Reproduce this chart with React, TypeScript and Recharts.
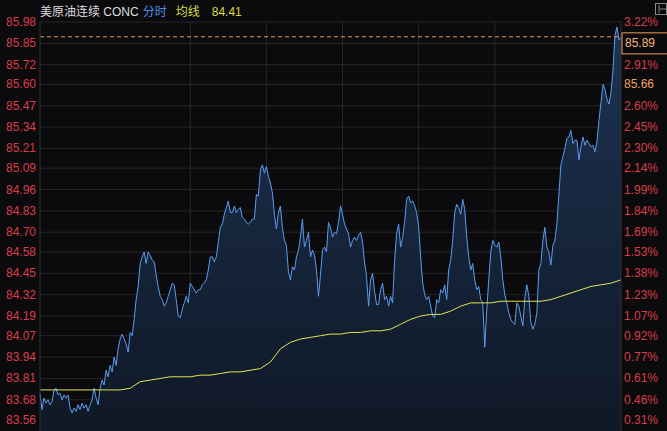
import { ComposedChart, Area, Line, XAxis, YAxis, CartesianGrid, ReferenceLine } from "recharts";

// 价格刻度（左）与右侧标签，从上到下
const priceTicks = [
  85.98, 85.85, 85.72, 85.6, 85.47, 85.34, 85.21, 85.09, 84.96, 84.83,
  84.7, 84.58, 84.45, 84.32, 84.19, 84.07, 83.94, 83.81, 83.68, 83.56,
];
const rightLabels = [
  "3.22%", "85.89", "2.91%", "85.66", "2.60%", "2.45%", "2.30%", "2.14%", "1.99%", "1.84%",
  "1.69%", "1.53%", "1.38%", "1.23%", "1.07%", "0.92%", "0.77%", "0.61%", "0.46%", "0.31%",
];

// 分时价格
const prices = [
  83.72, 83.62, 83.69, 83.66, 83.68, 83.65, 83.67, 83.74, 83.75, 83.71,
  83.72, 83.68, 83.71, 83.69, 83.71, 83.63, 83.6, 83.63, 83.61, 83.65,
  83.62, 83.66, 83.63, 83.65, 83.61, 83.65, 83.68, 83.75, 83.69, 83.65,
  83.75, 83.8, 83.77, 83.86, 83.82, 83.89, 83.85, 83.94, 83.89, 83.99,
  84.05, 84.08, 84.05, 84.02, 83.97, 84.09, 84.07, 84.17, 84.29, 84.37,
  84.51, 84.55, 84.58, 84.51, 84.58, 84.56, 84.53, 84.52, 84.44, 84.37,
  84.31, 84.29, 84.25, 84.27, 84.31, 84.35, 84.39, 84.38, 84.29, 84.19,
  84.18, 84.23, 84.27, 84.31, 84.27, 84.39, 84.37, 84.35, 84.33, 84.35,
  84.35, 84.38, 84.39, 84.41, 84.47, 84.55, 84.55, 84.52, 84.55, 84.64,
  84.73, 84.75, 84.81, 84.85, 84.89, 84.82, 84.82, 84.86, 84.82, 84.84,
  84.85, 84.79, 84.78, 84.76, 84.75, 84.76, 84.78, 84.78, 84.93, 84.92,
  85.08, 85.11, 85.06, 85.1, 85.04, 85.0, 84.94, 84.81, 84.72, 84.82,
  84.86, 84.73, 84.65, 84.62, 84.46, 84.41, 84.49, 84.47, 84.55, 84.59,
  84.67, 84.78, 84.61, 84.65, 84.7, 84.55, 84.59, 84.56, 84.47, 84.31,
  84.44, 84.59, 84.61, 84.58, 84.76, 84.73, 84.67, 84.7, 84.69, 84.76,
  84.86, 84.81, 84.75, 84.72, 84.69, 84.61, 84.65, 84.67, 84.65, 84.68,
  84.7, 84.64, 84.52, 84.43, 84.25, 84.41, 84.45, 84.34, 84.26, 84.26,
  84.35, 84.39, 84.29, 84.31, 84.25, 84.31, 84.27, 84.53, 84.69, 84.75,
  84.61, 84.67, 84.76, 84.9, 84.92, 84.88, 84.89, 84.86, 84.82, 84.73,
  84.55, 84.39, 84.32, 84.29, 84.31, 84.25, 84.19, 84.18, 84.29, 84.27,
  84.35, 84.33, 84.38, 84.29, 84.47, 84.53, 84.65, 84.82, 84.87, 84.85,
  84.81, 84.9, 84.84, 84.67, 84.55, 84.47, 84.51, 84.41, 84.35, 84.37,
  84.29, 84.27, 84.0, 84.23, 84.41, 84.58, 84.65, 84.62, 84.61, 84.64,
  84.55, 84.41, 84.32, 84.27, 84.21, 84.17, 84.15, 84.14, 84.27, 84.25,
  84.19, 84.13, 84.3, 84.38, 84.31, 84.15, 84.11, 84.14, 84.21, 84.47,
  84.51, 84.65, 84.73, 84.61, 84.58, 84.5, 84.62, 84.65, 84.75, 84.93,
  85.11, 85.16, 85.21, 85.27, 85.28, 85.32, 85.24, 85.26, 85.26, 85.14,
  85.22, 85.28, 85.23, 85.26, 85.24, 85.22, 85.23, 85.19, 85.25, 85.38,
  85.49, 85.6, 85.57, 85.51, 85.48, 85.55, 85.69, 85.9, 85.95, 85.87,
  85.89,
];

// 均线，每5个点取一个
const avgPrices = [
  83.74, 83.74, 83.74, 83.74, 83.74, 83.74, 83.74, 83.74, 83.74, 83.75,
  83.79, 83.8, 83.81, 83.82, 83.82, 83.82, 83.83, 83.83, 83.84, 83.85,
  83.85, 83.86, 83.87, 83.91, 83.99, 84.03, 84.05, 84.06, 84.07, 84.08,
  84.08, 84.09, 84.09, 84.1, 84.1, 84.11, 84.14, 84.17, 84.19, 84.2,
  84.2, 84.22, 84.25, 84.27, 84.27, 84.27, 84.28, 84.28, 84.28, 84.28,
  84.28, 84.29, 84.31, 84.33, 84.35, 84.37, 84.38, 84.39, 84.41,
];
const AVG_STEP = 5;

// 时段分隔线
const timeMarks = [75, 113, 151, 189, 227];

const lastPrice = 85.89;

const RED = "#dc3c48";
const ORANGE = "#f0a05a";
const FONT = "Arial, 'Liberation Sans', 'Noto Sans CJK SC', sans-serif";

const data = prices.map((p, i) => ({
  i,
  price: p,
  avg: i % AVG_STEP === 0 ? avgPrices[i / AVG_STEP] : null,
}));

// 竖线跟着时间刻度走
const timeGrid = (props: any) => {
  const { xAxis, offset } = props;
  if (xAxis && typeof xAxis.scale === "function") {
    return timeMarks.map((t) => xAxis.scale(t));
  }
  return timeMarks.map((t) => offset.left + (t / (prices.length - 1)) * offset.width);
};

const LeftTick = (props: any) => {
  const { x, y, payload } = props;
  return (
    <text x={x} y={y} textAnchor="end" dominantBaseline="central" fill={RED} fontSize={12} fontFamily={FONT}>
      {payload.value.toFixed(2)}
    </text>
  );
};

const RightTick = (props: any) => {
  const { x, y, payload } = props;
  const idx = priceTicks.indexOf(payload.value);
  const label = rightLabels[idx] ?? "";
  const isPrice = !label.endsWith("%");
  if (idx === 1) {
    return (
      <g>
        <rect x={x - 2} y={y - 10.5} width={50} height={21} fill="none" stroke={ORANGE} strokeWidth={1} />
        <text x={x + 1} y={y} dominantBaseline="central" fill="#f5b57a" fontSize={12} fontFamily={FONT}>
          {label}
        </text>
      </g>
    );
  }
  return (
    <text x={x} y={y} dominantBaseline="central" fill={isPrice ? ORANGE : RED} fontSize={12} fontFamily={FONT}>
      {label}
    </text>
  );
};

export default function App() {
  return (
    <div
      style={{
        position: "fixed",
        left: 0,
        top: 0,
        width: 667,
        height: 431,
        background: "#0b0b0d",
        overflow: "hidden",
        fontFamily: FONT,
      }}
    >
      <div style={{ position: "absolute", left: 40, top: 4, fontSize: 12, lineHeight: "16px", whiteSpace: "nowrap" }}>
        <span style={{ color: "#dcdcdc" }}>美原油连续 CONC</span>
        <span style={{ color: "#4e8fe6", marginLeft: 4 }}>分时</span>
        <span style={{ color: "#d8d84a", marginLeft: 9 }}>均线</span>
        <span style={{ color: "#d8d84a", marginLeft: 12 }}>84.41</span>
      </div>
      <svg style={{ position: "absolute", left: 655, top: 3 }} width={12} height={12}>
        <rect x={0.5} y={0.5} width={11} height={11} fill="none" stroke="#888" />
        <line x1={4} y1={2} x2={4} y2={10} stroke="#888" />
        <line x1={5} y1={6} x2={11} y2={6} stroke="#888" />
      </svg>
      <ComposedChart width={667} height={431} data={data} margin={{ top: 22, right: 0, bottom: 0, left: 0 }}>
        <defs>
          <linearGradient id="priceFill" x1="0" y1="0" x2="0" y2="1">
            <stop offset="0%" stopColor="#1d3352" />
            <stop offset="100%" stopColor="#0f1826" />
          </linearGradient>
        </defs>
        <CartesianGrid yAxisId="left" stroke="#272727" strokeWidth={1} verticalCoordinatesGenerator={timeGrid} />
        <XAxis
          type="number"
          dataKey="i"
          domain={[0, prices.length - 1]}
          ticks={timeMarks}
          height={0}
          tick={false}
          tickLine={false}
          axisLine={false}
        />
        <YAxis
          yAxisId="left"
          domain={[83.49, 85.98]}
          ticks={priceTicks}
          interval={0}
          width={40}
          tickSize={0}
          tickMargin={4}
          axisLine={{ stroke: "#333" }}
          tickLine={false}
          tick={<LeftTick />}
          allowDataOverflow
        />
        <YAxis
          yAxisId="right"
          orientation="right"
          domain={[83.49, 85.98]}
          ticks={priceTicks}
          interval={0}
          width={46}
          tickSize={0}
          tickMargin={3}
          axisLine={{ stroke: "#333" }}
          tickLine={false}
          tick={<RightTick />}
          allowDataOverflow
        />
        <ReferenceLine yAxisId="left" y={lastPrice} stroke="#e89a55" strokeDasharray="4 3" />
        <Area
          yAxisId="left"
          type="linear"
          dataKey="price"
          stroke="#5b9cf0"
          strokeWidth={1}
          fill="url(#priceFill)"
          fillOpacity={1}
          dot={false}
          activeDot={false}
          isAnimationActive={false}
        />
        <Line
          yAxisId="left"
          type="linear"
          dataKey="avg"
          stroke="#e4e452"
          strokeWidth={1}
          dot={false}
          activeDot={false}
          connectNulls
          isAnimationActive={false}
        />
      </ComposedChart>
    </div>
  );
}
